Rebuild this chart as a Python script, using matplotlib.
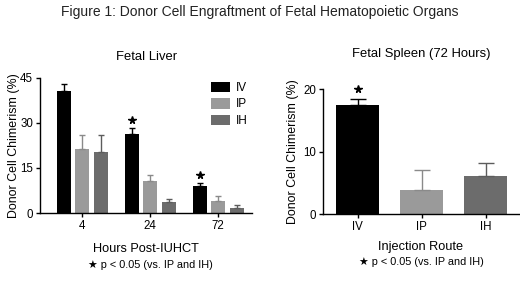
import matplotlib
matplotlib.use('Agg')
import matplotlib.pyplot as plt
import numpy as np

plt.rcParams['font.family'] = ['Liberation Sans', 'DejaVu Sans']

# Datos - higado fetal
horas = ['4', '24', '72']
grupos = ['IV', 'IP', 'IH']
higado_media = {'IV': [40.7, 26.2, 9.1], 'IP': [21.2, 10.7, 4.1], 'IH': [20.2, 3.6, 1.8]}
higado_err = {'IV': [2.4, 2.2, 0.8], 'IP': [4.6, 2.0, 1.7], 'IH': [5.6, 1.2, 1.0]}
higado_sig = [False, True, True]

# Datos - bazo fetal (72 horas)
bazo_media = [17.4, 3.9, 6.1]
bazo_err = [1.1, 3.2, 2.1]
bazo_sig = [True, False, False]

colores = {'IV': '#000000', 'IP': '#9a9a9a', 'IH': '#6c6c6c'}
err_col = {'IV': '#000000', 'IP': '#8a8a8a', 'IH': '#5c5c5c'}

fig = plt.figure(figsize=(5.2, 2.84), dpi=100)
fig.text(0.5, 0.958, 'Figure 1: Donor Cell Engraftment of Fetal Hematopoietic Organs',
         ha='center', va='center', fontsize=10, color='#222222')


def estilo(ax, pad):
    ax.spines['top'].set_visible(False)
    ax.spines['right'].set_visible(False)
    ax.spines['left'].set_linewidth(1.0)
    ax.spines['bottom'].set_linewidth(1.0)
    ax.tick_params(axis='both', length=3, width=1.0, labelsize=8.3, pad=2)
    ax.set_ylabel('Donor Cell Chimerism (%)', fontsize=8.9, labelpad=pad)


# Grafica izquierda
ax1 = fig.add_axes([0.077, 0.25, 0.408, 0.476])
x = np.arange(len(horas))
w = 0.206
off = 0.272
for i, g in enumerate(grupos):
    pos = x + (i - 1) * off
    m = higado_media[g]
    e = higado_err[g]
    ax1.bar(pos, m, width=w, color=colores[g], label=g,
            yerr=[np.zeros(len(m)), e], ecolor=err_col[g],
            error_kw=dict(elinewidth=1.0, capsize=2.5, capthick=1.0))
for j, s in enumerate(higado_sig):
    if s:
        top = higado_media['IV'][j] + higado_err['IV'][j]
        ax1.plot(x[j] - off, top + 2.6, marker='*', color='black', markersize=5.5, clip_on=False)
ax1.set_xticks(x)
ax1.set_xticklabels(horas)
ax1.set_ylim(0, 45)
ax1.set_yticks([0, 15, 30, 45])
ax1.set_xlim(-0.62, 2.5)
estilo(ax1, 0)
ax1.set_xlabel('Hours Post-IUHCT', fontsize=9.2, labelpad=8)
ax1.set_title('Fetal Liver', fontsize=9.4, pad=13)
ax1.legend(loc='upper right', bbox_to_anchor=(1.03, 1.05), frameon=False, fontsize=8.5,
           handlelength=1.6, handleheight=1.0, labelspacing=0.35, handletextpad=0.5)

# Grafica derecha
ax2 = fig.add_axes([0.621, 0.246, 0.377, 0.44])
x2 = np.arange(len(grupos))
for i, g in enumerate(grupos):
    ax2.bar(x2[i], bazo_media[i], width=0.67, color=colores[g],
            yerr=[[0], [bazo_err[i]]], ecolor=err_col[g],
            error_kw=dict(elinewidth=1.0, capsize=6, capthick=1.0))
for i, s in enumerate(bazo_sig):
    if s:
        ax2.plot(x2[i], bazo_media[i] + bazo_err[i] + 1.5, marker='*', color='black',
                 markersize=5.5, clip_on=False)
ax2.set_xticks(x2)
ax2.set_xticklabels(grupos)
ax2.set_ylim(0, 20)
ax2.set_yticks([0, 10, 20])
ax2.set_xlim(-0.54, 2.52)
estilo(ax2, 3)
ax2.set_xlabel('Injection Route', fontsize=9.2, labelpad=6)
ax2.set_title('Fetal Spleen (72 Hours)', fontsize=9.4, pad=23)

fig.text(0.29, 0.068, '★ p < 0.05 (vs. IP and IH)', ha='center', va='center', fontsize=7.8)
fig.text(0.81, 0.078, '★ p < 0.05 (vs. IP and IH)', ha='center', va='center', fontsize=7.8)

fig.savefig('out.png', dpi=100)
